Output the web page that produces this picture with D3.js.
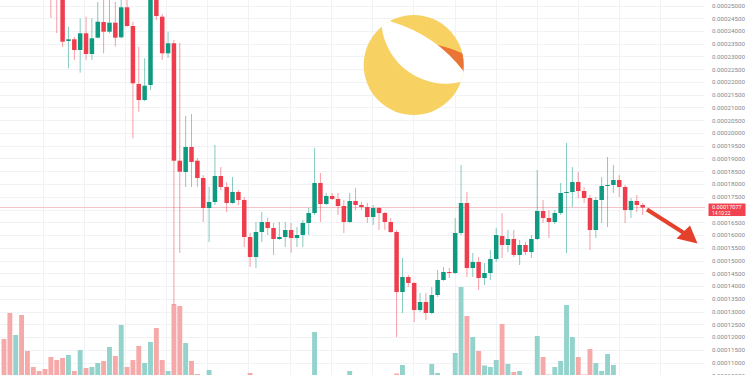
<!DOCTYPE html>
<html>
<head>
<meta charset="utf-8">
<script src="https://cdn.jsdelivr.net/npm/d3@7/dist/d3.min.js"></script>
<style>
  body { margin: 0; background: #fff; }
  svg { display: block; font-family: Roboto, "Noto Sans", sans-serif; }
</style>
</head>
<body>
<div id="chart"></div>
<script>
// candles, one per bar index
var opens = [0.00028500,0.00027900,0.00027000,0.00027500,0.00026600,0.00026300,0.00026200,0.00026100,0.00026000,0.00025600,
  0.00025300,0.00023608,0.00023675,0.00023255,0.00023910,0.00023098,0.00023738,0.00024353,0.00023973,0.00024326,
  0.00023753,0.00024930,0.00024196,0.00021922,0.00021294,0.00021883,0.00025650,0.00024561,0.00023126,0.00023518,
  0.00018914,0.00018471,0.00019451,0.00018914,0.00018236,0.00017059,0.00017294,0.00018314,0.00017883,0.00017255,
  0.00017687,0.00017373,0.00015922,0.00015137,0.00016118,0.00016510,0.00016275,0.00015843,0.00015922,0.00016196,
  0.00015883,0.00016000,0.00016471,0.00016863,0.00018039,0.00017216,0.00017530,0.00017412,0.00017137,0.00016510,
  0.00017333,0.00017177,0.00017098,0.00016706,0.00017059,0.00016863,0.00016510,0.00016118,0.00013765,0.00014353,
  0.00014118,0.00013059,0.00013373,0.00012941,0.00013647,0.00014235,0.00014549,0.00014510,0.00016079,0.00017255,
  0.00014706,0.00014941,0.00014314,0.00014510,0.00015059,0.00015961,0.00015608,0.00015843,0.00015216,0.00015608,
  0.00015333,0.00015843,0.00016941,0.00016667,0.00016510,0.00016863,0.00017647,0.00017687,0.00018079,0.00017726,
  0.00017451,0.00016196,0.00017373,0.00017922,0.00017961,0.00018157,0.00017883,0.00016980,0.00017333,0.00017177];
var highs = [0.00028800,0.00028100,0.00027700,0.00027600,0.00026800,0.00026500,0.00026400,0.00026300,0.00026200,0.00025800,
  0.00025400,0.00024169,0.00023765,0.00024498,0.00024561,0.00024498,0.00025138,0.00025300,0.00025250,0.00025149,
  0.00025300,0.00025350,0.00024365,0.00023385,0.00022930,0.00025800,0.00025900,0.00024667,0.00023973,0.00023647,
  0.00023530,0.00020667,0.00020745,0.00019020,0.00018353,0.00017883,0.00019530,0.00018667,0.00018079,0.00018275,
  0.00017765,0.00017490,0.00016079,0.00016510,0.00016902,0.00016667,0.00016471,0.00016510,0.00016510,0.00016471,
  0.00016314,0.00016588,0.00017059,0.00019412,0.00018432,0.00017647,0.00017647,0.00017647,0.00017373,0.00017647,
  0.00017843,0.00017294,0.00017255,0.00017177,0.00017098,0.00016902,0.00016667,0.00016196,0.00015098,0.00014432,
  0.00014157,0.00013726,0.00013726,0.00013961,0.00014627,0.00014745,0.00014706,0.00016667,0.00018745,0.00017687,
  0.00015294,0.00015137,0.00014902,0.00015412,0.00016275,0.00016863,0.00016196,0.00016196,0.00015804,0.00015726,
  0.00016000,0.00018549,0.00017373,0.00016980,0.00016980,0.00018039,0.00019608,0.00018667,0.00018471,0.00017883,
  0.00017569,0.00017490,0.00018275,0.00019059,0.00018745,0.00018353,0.00017961,0.00017451,0.00017569,0.00017255];
var lows = [0.00027600,0.00026800,0.00026700,0.00026200,0.00025900,0.00026000,0.00025800,0.00025700,0.00024510,0.00023922,
  0.00023373,0.00022538,0.00022863,0.00022365,0.00022863,0.00022863,0.00023714,0.00023126,0.00023910,0.00023385,
  0.00023714,0.00024169,0.00019792,0.00020836,0.00021250,0.00021687,0.00024432,0.00022863,0.00022941,0.00013255,
  0.00015294,0.00017883,0.00017883,0.00017883,0.00016510,0.00015726,0.00017177,0.00017765,0.00016902,0.00017230,
  0.00017177,0.00015530,0.00014745,0.00014706,0.00015726,0.00016000,0.00015216,0.00015804,0.00015530,0.00015294,
  0.00015530,0.00015530,0.00016000,0.00016784,0.00016510,0.00017177,0.00017373,0.00016784,0.00016079,0.00016471,
  0.00016980,0.00016980,0.00016471,0.00016392,0.00016196,0.00016196,0.00016079,0.00012000,0.00012941,0.00013961,
  0.00012588,0.00012980,0.00012667,0.00012900,0.00013569,0.00014200,0.00014314,0.00014470,0.00016000,0.00014353,
  0.00014353,0.00013843,0.00014039,0.00014235,0.00014941,0.00015098,0.00015333,0.00015137,0.00014824,0.00015216,
  0.00015098,0.00015804,0.00016471,0.00015883,0.00016431,0.00016784,0.00015294,0.00017098,0.00017451,0.00017255,
  0.00015412,0.00015883,0.00016471,0.00016314,0.00017647,0.00017490,0.00016471,0.00016667,0.00016902,0.00016784];
var closes = [0.00027900,0.00027000,0.00027500,0.00026600,0.00026300,0.00026200,0.00026100,0.00026000,0.00025600,0.00025300,
  0.00023581,0.00023675,0.00023255,0.00023910,0.00023098,0.00023714,0.00024365,0.00023973,0.00024326,0.00023738,
  0.00024930,0.00024196,0.00021949,0.00021294,0.00021855,0.00025650,0.00024589,0.00023126,0.00023518,0.00018914,
  0.00018483,0.00019451,0.00018863,0.00018236,0.00017059,0.00017294,0.00018314,0.00017883,0.00017255,0.00017687,
  0.00017373,0.00015922,0.00015137,0.00016118,0.00016510,0.00016275,0.00015843,0.00015922,0.00016196,0.00015883,
  0.00016000,0.00016471,0.00016863,0.00018039,0.00017216,0.00017530,0.00017412,0.00017137,0.00016510,0.00017333,
  0.00017177,0.00017098,0.00016706,0.00017059,0.00016863,0.00016510,0.00016118,0.00013765,0.00014353,0.00014118,
  0.00013059,0.00013373,0.00012941,0.00013647,0.00014235,0.00014549,0.00014510,0.00016079,0.00017255,0.00014706,
  0.00014941,0.00014314,0.00014510,0.00015059,0.00016000,0.00015608,0.00015843,0.00015216,0.00015608,0.00015333,
  0.00015843,0.00016941,0.00016667,0.00016510,0.00016863,0.00017647,0.00017687,0.00018079,0.00017726,0.00017451,
  0.00016196,0.00017373,0.00017922,0.00017961,0.00018157,0.00017883,0.00016980,0.00017333,0.00017177,0.00017077];
var volumes = [39,65,43,63,27,11,7,9,21,18,
  20,23,7,28,10,11,15,17,31,22,
  53,11,18,32,15,36,50,18,7,74,
  72,35,17,4,3,8,2,2,1.5,2,
  1,2.5,5,2,1,1,2,1,1,1.5,
  1,1.5,2,46,2.5,1,1,1.5,2,7,
  2,1,1.5,1,1.5,1.5,2,4.5,13,3,
  3,2,2.5,14,5,2.5,2,25,91,62,
  41,27,12.5,11,18,54,14,6,7,2.5,
  2.5,42,21,3.5,11,17,73,41,21,3.5,
  29,15,7,24,13,2,2.5,1.5,1,0.5];

var priceTicks = [0.000105,0.00011,0.000115,0.00012,0.000125,0.00013,0.000135,0.00014,0.000145,0.00015,
  0.000155,0.00016,0.000165,0.00017,0.000175,0.00018,0.000185,0.00019,0.000195,0.0002,
  0.000205,0.00021,0.000215,0.00022,0.000225,0.00023,0.000235,0.00024,0.000245,0.00025];
var lastPrice = 0.00017077;
var countdown = "14:10:22";
// vertical grid positions, in bar index units
var timeGrid = [6.6,13.6,20.6,27.7,34.7,41.7,48.8,55.8,62.8,69.8,76.9,83.9,90.9,97.9,105,112];

var W = 750, H = 375, plotRight = 705;
var upColor = "#0e9a80", downColor = "#ee3d4c";
var upVol = "#93d3cc", downVol = "#f6a9a9";

var svg = d3.select("#chart").append("svg")
    .attr("width", W)
    .attr("height", H);

svg.append("rect").attr("width", W).attr("height", H).attr("fill", "#fff");

var bars = d3.range(opens.length).map(function(i) {
    return { i: i, o: opens[i], h: highs[i], l: lows[i], c: closes[i], v: volumes[i] };
});

var x = d3.scaleLinear().domain([0, bars.length - 1]).range([4, 642.7]);
var y = d3.scaleLinear().domain([0.00011, 0.00025]).range([362.5, 5.5]);
var yVol = d3.scaleLinear().domain([0, 100]).range([378, 278]);

svg.append("clipPath").attr("id", "plotClip")
    .append("rect").attr("x", 0).attr("y", 0).attr("width", plotRight).attr("height", H);

// grid
var grid = svg.append("g").attr("clip-path", "url(#plotClip)");
grid.selectAll("line.h").data(priceTicks).enter().append("line")
    .attr("x1", 0).attr("x2", plotRight)
    .attr("y1", function(d) { return Math.round(y(d)) + 0.5; })
    .attr("y2", function(d) { return Math.round(y(d)) + 0.5; })
    .attr("stroke", "#f0f2f6");
grid.selectAll("line.v").data(timeGrid).enter().append("line")
    .attr("x1", function(d) { return Math.round(x(d)) + 0.5; })
    .attr("x2", function(d) { return Math.round(x(d)) + 0.5; })
    .attr("y1", 0).attr("y2", H)
    .attr("stroke", "#f0f2f6");

// volume
var plot = svg.append("g").attr("clip-path", "url(#plotClip)");
plot.selectAll("rect.vol").data(bars).enter().append("rect")
    .attr("x", function(d) { return x(d.i) - 2.45; })
    .attr("width", 4.9)
    .attr("y", function(d) { return yVol(d.v); })
    .attr("height", function(d) { return yVol(0) - yVol(d.v); })
    .attr("fill", function(d) { return d.c >= d.o ? upVol : downVol; });

// last price line
plot.append("line")
    .attr("x1", 0).attr("x2", plotRight)
    .attr("y1", y(lastPrice)).attr("y2", y(lastPrice))
    .attr("stroke", "#f5c3c7").attr("stroke-width", 1);

// candles
var candles = plot.selectAll("g.candle").data(bars).enter().append("g");
candles.append("line")
    .attr("x1", function(d) { return x(d.i); })
    .attr("x2", function(d) { return x(d.i); })
    .attr("y1", function(d) { return y(d.h); })
    .attr("y2", function(d) { return y(d.l); })
    .attr("stroke", function(d) { return d.c >= d.o ? upColor : downColor; })
    .attr("stroke-opacity", 0.5)
    .attr("stroke-width", 1);
candles.append("rect")
    .attr("x", function(d) { return x(d.i) - 2.25; })
    .attr("width", 4.5)
    .attr("y", function(d) { return y(Math.max(d.o, d.c)); })
    .attr("height", function(d) { return Math.max(1, Math.abs(y(d.o) - y(d.c))); })
    .attr("fill", function(d) { return d.c >= d.o ? upColor : downColor; });

// price axis (the label under the last price tag is hidden, as on the chart)
var axisTicks = priceTicks.filter(function(d) { return Math.abs(y(d) - y(lastPrice)) > 6; });
var axis = svg.append("g")
    .attr("transform", "translate(712,0)")
    .call(d3.axisRight(y).tickValues(axisTicks).tickSize(0).tickPadding(0).tickFormat(d3.format(".8f")));
axis.select(".domain").remove();
axis.selectAll("text")
    .attr("fill", "#85888f")
    .style("font-size", "6.2px")
    .style("font-family", "Roboto, sans-serif");

// last price tag
var tag = svg.append("g");
tag.append("rect")
    .attr("x", 708.5).attr("y", y(lastPrice) - 4)
    .attr("width", 37).attr("height", 12.5)
    .attr("fill", "#f0424f");
tag.append("text")
    .attr("x", 712).attr("y", y(lastPrice) + 1.3)
    .attr("fill", "#fff").style("font-size", "5.6px")
    .text(d3.format(".8f")(lastPrice));
tag.append("text")
    .attr("x", 712).attr("y", y(lastPrice) + 7)
    .attr("fill", "#fff").style("font-size", "4.8px")
    .text(countdown);

// arrow
svg.append("line")
    .attr("x1", 647).attr("y1", 209.5)
    .attr("x2", 684).attr("y2", 233)
    .attr("stroke", "#e5402b").attr("stroke-width", 4);
svg.append("path")
    .attr("d", "M676.5,238.5 L690,225.5 L697.5,243.5 Z")
    .attr("fill", "#e5402b");

// logo: yellow ball, orange wedge, white crescent cut
var cx = 413.7, cy = 65, r = 50;
svg.append("clipPath").attr("id", "logoClip")
    .append("circle").attr("cx", cx).attr("cy", cy).attr("r", r);
var logo = svg.append("g");
logo.append("circle").attr("cx", cx).attr("cy", cy).attr("r", r).attr("fill", "#f7d263");
var inner = logo.append("g").attr("clip-path", "url(#logoClip)");
inner.append("path")
    .attr("d", "M437,45 Q452,48 468,56 L475,80 L440,60 Z")
    .attr("fill", "#ea7433");
inner.append("path")
    .attr("d", "M380,15 L391.7,21.7 Q436,35 464,71.7 L475,75 L475,82 L461.7,81.7 " +
               "A64.6,64.6 0 0,1 381.7,26.7 L375,22 Z")
    .attr("fill", "#fff");
</script>
</body>
</html>
